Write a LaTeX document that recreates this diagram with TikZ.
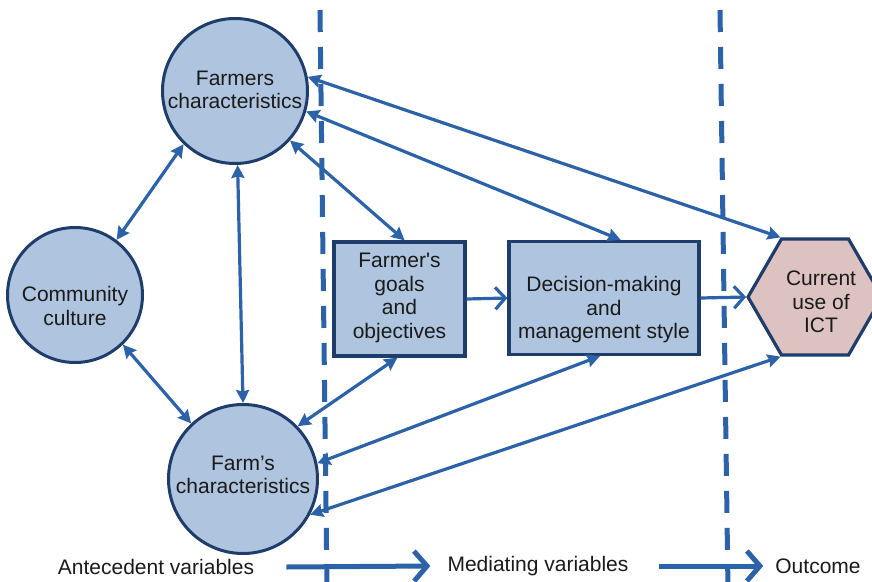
\documentclass[tikz,border=0pt]{standalone}
\usepackage{fontspec}
\setmainfont{Liberation Sans}
\usetikzlibrary{arrows.meta,shapes.geometric,calc}

\definecolor{nodefill}{HTML}{AFC4DE}
\definecolor{nodeline}{HTML}{1E3D6B}
\definecolor{arrowblue}{HTML}{2C62A8}
\definecolor{ictfill}{HTML}{DCC3C1}
\definecolor{txt}{HTML}{1A1A1A}

\tikzset{
  circ/.style={circle, draw=nodeline, fill=nodefill, line width=3pt, inner sep=0pt},
  boxnode/.style={rectangle, draw=nodeline, fill=nodefill, line width=3.2pt, inner sep=0pt},
  hexnode/.style={regular polygon, regular polygon sides=6, draw=nodeline, fill=ictfill,
    line width=3.2pt, inner sep=0pt, minimum size=134pt},
  lbl/.style={align=center, font=\fontsize{21}{23.5}\selectfont, text=txt, inner sep=0pt},
  link/.style={arrowblue, line width=3.2pt,
    {Stealth[length=13pt,width=13pt,inset=1.5pt]}-{Stealth[length=13pt,width=13pt,inset=1.5pt]}},
  flow/.style={arrowblue, line width=3.2pt, -{Straight Barb[length=10pt,width=22pt]}},
  divider/.style={arrowblue, line width=5pt, dash pattern=on 22pt off 15pt},
  legarrow/.style={arrowblue, line width=5pt, -{Straight Barb[length=13pt,width=30pt]}},
}

\begin{document}
\begin{tikzpicture}[x=1pt,y=-1pt]
\useasboundingbox (0,0) rectangle (872,581);
\clip (0,0) rectangle (872,581);

% stage dividers
\coordinate (d1top) at (320,10);
\coordinate (d1bot) at (327,590);
\coordinate (d2top) at (720,10);
\coordinate (d2bot) at (728,590);
\draw[divider] (d1top) -- (d1bot);
\draw[divider] (d2top) -- (d2bot);

% variables
\node[circ, minimum size=145pt] (fc) at (235,91) {};
\node[lbl] at (235,90) {Farmers\\characteristics};

\node[circ, minimum size=135pt] (cc) at (75,295) {};
\node[lbl] at (75,306) {Community\\culture};

\node[circ, minimum size=149pt] (fm) at (243,479) {};
\node[lbl] at (243,475) {Farm’s\\characteristics};

\node[boxnode, minimum width=131pt, minimum height=114pt] (goals) at (399.5,299) {};
\node[lbl] at (399.5,298) {Farmer\textquotesingle s\\goals\\and\\objectives};

\node[boxnode, minimum width=190pt, minimum height=113pt] (dm) at (604,298) {};
\node[lbl] at (604,310) {Decision-making\\and\\management style};

\node[hexnode] (ict) at (815,297) {};
\node[lbl] at (821,302) {Current\\use of\\ICT};

% relations
\draw[link] (fc.-134) -- (cc.53);
\draw[link] (fc.-88) -- (fm.90);
\draw[link] (cc.-46) -- (fm.133);
\draw[link] (fc.-42) -- (goals.85);
\draw[link] (fc.-16) -- (dm.74);
\draw[link] (fc.11) -- (ict.120);
\draw[flow] (goals.east) -- (dm.west);
\draw[flow] (dm.east) -- (ict.180);
\draw[link] (goals.-92) -- (fm.44);
\draw[link] (dm.-94) -- (fm.12);
\draw[link] (ict.240) -- (fm.-28);

% stage legend
\node[lbl] (ant) at (156,567) {Antecedent variables};
\node[lbl] (med) at (538,566) {Mediating variables};
\node[lbl] (out) at (818,566) {Outcome};
\draw[legarrow] ([xshift=32pt]ant.east) -- ([xshift=-17pt]med.west);
\draw[legarrow] ([xshift=30pt]med.east) -- ([xshift=-12pt]out.west);
\end{tikzpicture}
\end{document}
